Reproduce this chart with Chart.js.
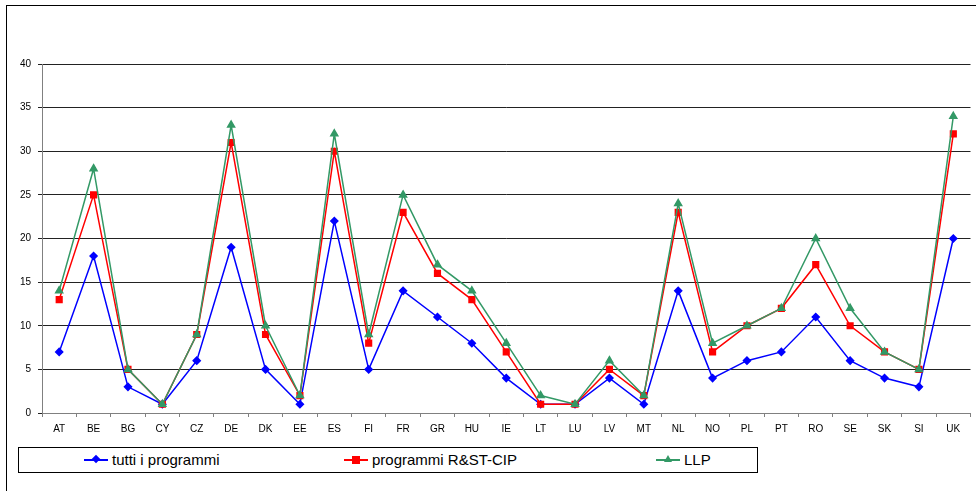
<!DOCTYPE html>
<html>
<head>
<meta charset="utf-8">
<script src="https://cdn.jsdelivr.net/npm/chart.js@4/dist/chart.umd.min.js"></script>
<style>
  body { margin: 0; background: #fff; font-family: Arial, "Liberation Sans", sans-serif; }
  #wrap { position: relative; width: 976px; height: 491px; overflow: hidden; }
  #frame { position: absolute; left: 6px; top: 5px; width: 980px; height: 500px;
           border-top: 1px solid #000; border-left: 1px solid #000; }
  canvas { position: absolute; left: 0; top: 0; }
  #legend { position: absolute; left: 18px; top: 447px; width: 738px; height: 24px;
            border: 1px solid #000; background: #fff; }
  .item { position: absolute; top: 0; height: 24px; }
  .line { position: absolute; top: 11px; height: 1.5px; width: 24px; }
  .txt { position: absolute; top: 3px; font-size: 15px; color: #000; white-space: nowrap; }
  .mk { position: absolute; }
</style>
</head>
<body>
<div id="wrap">
  <div id="frame"></div>
  <canvas id="chart" width="976" height="491"></canvas>
  <div id="legend"></div>
</div>
<script>
// categorie (paesi)
const paesi = ['AT','BE','BG','CY','CZ','DE','DK','EE','ES','FI','FR','GR','HU','IE','LT','LU','LV','MT','NL','NO','PL','PT','RO','SE','SK','SI','UK'];

const tuttiProgrammi = [7,18,3,1,6,19,5,1,22,5,14,11,8,4,1,1,4,1,14,4,6,7,11,6,4,3,20];
const programmiRST   = [13,25,5,1,9,31,9,2,30,8,23,16,13,7,1,1,5,2,23,7,10,12,17,10,7,5,32];
const llp            = [14,28,5,1,9,33,10,2,32,9,25,17,14,8,2,1,6,2,24,8,10,12,20,12,7,5,34];

const nomiSerie = ['tutti i programmi', 'programmi R&ST-CIP', 'LLP'];
const colori = ['#0000FF', '#FF0000', '#339966'];

const tickFont = { family: 'Arial, "Liberation Sans", sans-serif', size: 10 };

new Chart(document.getElementById('chart'), {
    type: 'line',
    data: {
        labels: paesi,
        datasets: [
            {
                label: nomiSerie[0], data: tuttiProgrammi,
                borderColor: colori[0], backgroundColor: colori[0],
                borderWidth: 1.5, pointStyle: 'rectRot', pointRadius: 3.5,
                order: 3
            },
            {
                label: nomiSerie[1], data: programmiRST,
                borderColor: colori[1], backgroundColor: colori[1],
                borderWidth: 1.5, pointStyle: 'rect', pointRadius: 4,
                order: 2
            },
            {
                label: nomiSerie[2], data: llp,
                borderColor: colori[2], backgroundColor: colori[2],
                borderWidth: 1.5, pointStyle: 'triangle', pointRadius: 4,
                order: 1
            }
        ]
    },
    options: {
        responsive: false,
        animation: false,
        layout: { padding: { left: 0, top: 64, right: 5, bottom: 48 } },
        plugins: {
            legend: { display: false },
            tooltip: { enabled: false }
        },
        elements: { line: { tension: 0 } },
        scales: {
            x: {
                offset: true,
                grid: { display: true, drawOnChartArea: false, offset: true, tickLength: 4, color: '#808080' },
                border: { color: '#808080', width: 1 },
                ticks: { color: '#000', font: tickFont, padding: 6, maxRotation: 0, autoSkip: false },
                afterFit: (scale) => { scale.height = 30; }
            },
            y: {
                min: 0, max: 40,
                grid: { color: '#222', lineWidth: 1, tickLength: 4, drawTicks: true },
                border: { color: '#808080', width: 1 },
                ticks: { stepSize: 5, color: '#000', font: tickFont, padding: 7 },
                afterFit: (scale) => { scale.width = 42; }
            }
        }
    }
});

// legenda con riquadro, come nell'originale
const legenda = document.getElementById('legend');
const posLegenda = [65, 325, 637]; // inizio della linea, relativo al riquadro
nomiSerie.forEach((nome, i) => {
    const it = document.createElement('div');
    it.className = 'item';
    it.style.left = posLegenda[i] + 'px';
    const ln = document.createElement('div');
    ln.className = 'line';
    ln.style.background = colori[i];
    it.appendChild(ln);
    const mk = document.createElement('div');
    mk.className = 'mk';
    if (i === 0) {
        Object.assign(mk.style, { left: '9px', top: '8px', width: '6px', height: '6px', background: colori[i], transform: 'rotate(45deg)' });
    } else if (i === 1) {
        Object.assign(mk.style, { left: '8px', top: '7.5px', width: '8px', height: '8px', background: colori[i] });
    } else {
        Object.assign(mk.style, { left: '8px', top: '7px', width: '0', height: '0',
            borderLeft: '4px solid transparent', borderRight: '4px solid transparent', borderBottom: '7px solid ' + colori[i] });
    }
    it.appendChild(mk);
    const tx = document.createElement('div');
    tx.className = 'txt';
    tx.style.left = '28px';
    tx.textContent = nome;
    it.appendChild(tx);
    legenda.appendChild(it);
});
</script>
</body>
</html>
